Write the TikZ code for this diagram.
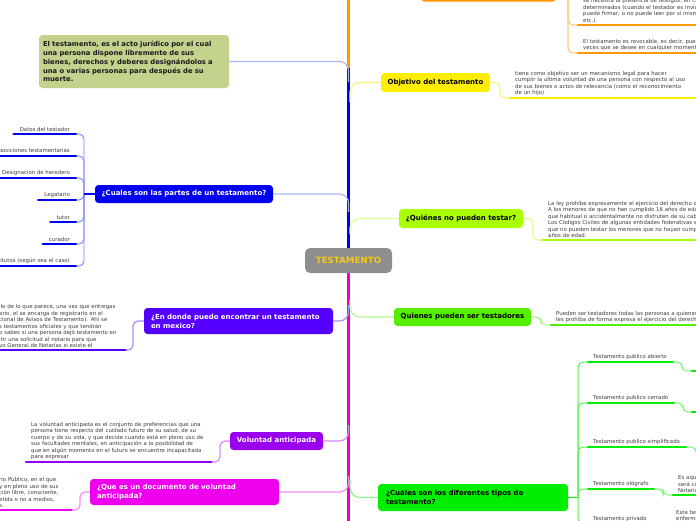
\documentclass[tikz,border=0pt]{standalone}
\usepackage{fontspec}
\setmainfont{DejaVu Sans}
\definecolor{rootgray}{HTML}{8E8E90}
\definecolor{rootyel}{HTML}{F2C81A}
\definecolor{olive}{HTML}{C3D28D}
\definecolor{darktext}{HTML}{1A1A1A}
\definecolor{textgray}{HTML}{3C3C3C}
\definecolor{blueN}{HTML}{0000EE}
\definecolor{blueL}{HTML}{A9B6FF}
\definecolor{dondeC}{HTML}{5500FF}
\definecolor{dondeL}{HTML}{A88CFF}
\definecolor{volC}{HTML}{9900EE}
\definecolor{volL}{HTML}{D38CFF}
\definecolor{docC}{HTML}{EE00EE}
\definecolor{docL}{HTML}{F58CF5}
\definecolor{magT}{HTML}{EE00CC}
\definecolor{yelC}{HTML}{FFEE00}
\definecolor{yelL}{HTML}{FFF27A}
\definecolor{limeC}{HTML}{AAFF00}
\definecolor{limeL}{HTML}{D9FF8C}
\definecolor{puC}{HTML}{55EE00}
\definecolor{puL}{HTML}{B3F58C}
\definecolor{tiC}{HTML}{00EE00}
\definecolor{tiL}{HTML}{8CF58C}
\definecolor{orC}{HTML}{FF9900}
\definecolor{orL}{HTML}{FFCC80}
\newcommand\mmttl{\fontsize{7}{9}\selectfont\bfseries}
\newcommand\mmsml{\fontsize{5.4}{6.5}\selectfont}
\newcommand\mmroot{\fontsize{8.7}{10}\selectfont\bfseries}
\begin{document}
\begin{tikzpicture}[x=1pt,y=-1pt,
  box/.style={rounded corners=3.5pt, font=\mmttl, inner sep=0pt},
  leaf/.style={anchor=south west, inner xsep=5pt, inner ysep=2pt, align=left, font=\mmsml, text=textgray},
  leafr/.style={anchor=south east, inner xsep=6pt, inner ysep=2pt, align=right, font=\mmsml, text=textgray},
  conn/.style={line width=1.2pt, rounded corners=5pt},
  bar/.style={line width=2.6pt, line cap=round},
  trunk/.style={line width=2.8pt}]
\useasboundingbox (0,0) rectangle (696,520);
\clip (0,0) rectangle (696,520);

% ---------- main nodes ----------
\node[box, fill=orC, minimum width=135pt, minimum height=15.5pt] (onode) at (488.5,-6.25) {};
\node[box, fill=olive, text=darktext, minimum width=190pt, minimum height=53pt, text width=182pt, align=left, font=\fontsize{6.8}{8.9}\selectfont\bfseries] (eltest) at (134,61.5)
 {El testamento, es el acto jurídico por el cual\\ una persona dispone libremente de sus\\ bienes, derechos y deberes designándolos a\\ una o varias personas para después de su\\ muerte.};
\node[box, fill=blueN, text=white, minimum width=178pt, minimum height=18pt] (partes) at (184,194) {¿Cuales son las partes de un testamento?};
\node[box, fill=dondeC, text=white, minimum width=189pt, minimum height=26pt, text width=175pt, align=left] (donde) at (238.5,321)
 {¿En donde puedo encontrar un testamento\\ en mexico?};
\node[box, fill=volC, text=white, minimum width=93pt, minimum height=18pt] (volunt) at (276.5,441) {Voluntad anticipada};
\node[box, fill=docC, text=white, minimum width=189pt, minimum height=26pt, text width=175pt, align=left] (doc) at (184.5,492)
 {¿Que es un documento de voluntad\\ anticipada?};
\node[box, fill=yelC, text=black, minimum width=109pt, minimum height=19pt] (objetivo) at (435.5,82.5) {Objetivo del testamento};
\node[box, fill=limeC, text=black, minimum width=124pt, minimum height=19pt] (nopueden) at (461,218.5) {¿Quiénes no pueden testar?};
\node[box, fill=puC, text=black, minimum width=137pt, minimum height=18pt] (pueden) at (462.5,317) {Quienes pueden ser testadores};
\node[box, fill=tiC, text=black, minimum width=190pt, minimum height=27pt, text width=174pt, align=left] (tipos) at (473,497.5)
 {¿Cuáles son los diferentes tipos de\\ testamento?};

% ---------- trunk ----------
\draw[trunk, orC, rounded corners=8pt] (348.5,250) |- (onode.west);
\draw[trunk, blueN] (348.5,250) -- (348.5,68);
\draw[trunk, magT] (348.5,270) -- (348.5,530);
\node[box, fill=rootgray, text=rootyel, font=\mmroot, minimum width=87pt, minimum height=25pt, rounded corners=5pt] (root) at (348.5,260.5) {TESTAMENTO};

\coordinate (jET) at (348.5,82);
\coordinate (jPA) at (348.5,212);
\coordinate (jDO) at (348.5,305);
\coordinate (jVO) at (348.5,425);
\coordinate (jDC) at (348.5,476);
\coordinate (jOB) at (350,102);
\coordinate (jNP) at (350,234);
\coordinate (jPU) at (350,300);
\coordinate (jTI) at (350,480);
\draw[conn, blueL, rounded corners=9pt] (eltest.east) -| (jET);
\draw[conn, blueL, rounded corners=9pt] (partes.east) -| (jPA);
\draw[conn, dondeL, rounded corners=9pt] (donde.east) -| (jDO);
\draw[conn, volL, rounded corners=9pt] (volunt.east) -| (jVO);
\draw[conn, docL, rounded corners=9pt] (doc.east) -| (jDC);
\draw[conn, yelL, rounded corners=10pt] (jOB) |- (objetivo.west);
\draw[conn, limeL, rounded corners=10pt] (jNP) |- (nopueden.west);
\draw[conn, puL, rounded corners=10pt] (jPU) |- (pueden.west);
\draw[conn, tiL, rounded corners=10pt] (jTI) |- (tipos.west);

% ---------- orange leaves ----------
\node[leaf, text width=200pt] (oc1) at (578,25)
 {se necesita la presencia de testigos, en casos\\ determinados (cuando el testador es invidente, no\\ puede firmar, o no puede leer por sí mismo,\\ etc.).};
\node[leaf, text width=200pt] (oc2) at (578,53)
 {El testamento es revocable, es decir, puede revocarse las\\ veces que se desee en cualquier momento.};
\coordinate (oJ) at (568,-6.25);
\draw[conn, orL] (onode.east) -- (oJ) |- (oc1.south west);
\draw[conn, orL] (oJ) |- (oc2.south west);
\draw[bar, orC] (oc1.south west) -- (oc1.south east);
\draw[bar, orC] (oc2.south west) -- (oc2.south east);

% ---------- objetivo leaf ----------
\node[leaf, text width=200pt] (ob1) at (510,98)
 {tiene como objetivo ser un mecanismo legal para hacer\\ cumplir la ultima voluntad de una persona con respecto al uso\\ de sus bienes o actos de relevancia (como el reconocimiento\\ de un hijo)};
\coordinate (obJ) at (500,82.5);
\draw[conn, yelL] (objetivo.east) -- (obJ) |- (ob1.south west);
\draw[bar, yelC] (ob1.south west) -- (ob1.south east);

% ---------- no pueden leaf ----------
\node[leaf, text width=200pt] (np1) at (543,240)
 {La ley prohíbe expresamente el ejercicio del derecho de testar:\\ A los menores de que no han cumplido 16 años de edad\\ que habitual o accidentalmente no disfruten de su cabal juicio.\\ Los Códigos Civiles de algunas entidades federativas establecen\\ que no pueden testar los menores que no hayan cumplido 14\\ años de edad.};
\coordinate (npJ) at (533,218.5);
\draw[conn, limeL] (nopueden.east) -- (npJ) |- (np1.south west);
\draw[bar, limeC] (np1.south west) -- (np1.south east);

% ---------- pueden leaf ----------
\node[leaf, text width=200pt] (pu1) at (551,325)
 {Pueden ser testadores todas las personas a quienes la ley no\\ les prohíba de forma expresa el ejercicio del derecho de testar.};
\coordinate (puJ) at (541,317);
\draw[conn, puL] (pueden.east) -- (puJ) |- (pu1.south west);
\draw[bar, puC] (pu1.south west) -- (pu1.south east);

% ---------- partes leaves ----------
\node[leafr] (pl1) at (76,134) {Datos del testador};
\node[leafr] (pl2) at (76,156) {Disposiciones testamentarias};
\node[leafr] (pl3) at (76,178) {Designacion de heredero};
\node[leafr] (pl4) at (76,200) {Legatario};
\node[leafr] (pl5) at (76,222) {tutor};
\node[leafr] (pl6) at (76,244) {curador};
\node[leafr] (pl7) at (76,266) {Sustitutos (según sea el caso)};
\coordinate (paJ) at (84,194);
\foreach \n in {pl1,pl2,pl3,pl4,pl5,pl6,pl7}{
  \draw[conn, line width=0.9pt, blueL!70!blueN] (paJ) |- (\n.south east);
  \draw[bar, blueN] (\n.south west) -- (\n.south east);
}
\draw[line width=2pt, blueN] (partes.west) -- (paJ);

% ---------- donde leaf ----------
\node[leaf, text width=121pt] (dl) at (-6,350)
 {llo de lo que parece, una vez que entregas\\ ario, el se encarga de registrarlo en el\\ cional de Avisos de Testamento). Ahí se\\ s testamentos oficiales y que tendrán\\ o sabes si una persona dejó testamento en\\ itir una solicitud al notario para que\\ vo General de Notarías si existe el};
\coordinate (dJ) at (133,321);
\draw[conn, dondeL] (donde.west) -- (dJ) |- (dl.south east);
\draw[bar, dondeC] (dl.south west) -- (dl.south east);

% ---------- voluntad leaf ----------
\node[leaf, text width=175pt] (vl) at (26,462)
 {La voluntad anticipada es el conjunto de preferencias que una\\ persona tiene respecto del cuidado futuro de su salud, de su\\ cuerpo y de su vida, y que decide cuando está en pleno uso de\\ sus facultades mentales, en anticipación a la posibilidad de\\ que en algún momento en el futuro se encuentre incapacitada\\ para expresar};
\coordinate (vJ) at (220,441);
\draw[conn, volL] (volunt.west) -- (vJ) |- (vl.south east);
\draw[bar, volC] (vl.south west) -- (vl.south east);

% ---------- doc leaf ----------
\node[leaf, text width=67pt] (dcl) at (-6,510)
 {rio Público, en el que\\ y en pleno uso de sus\\ ción libre, consciente,\\ etida o no a medios,\\ s.};
\coordinate (dcJ) at (80,492);
\draw[conn, docL] (doc.west) -- (dcJ) |- (dcl.south east);
\draw[bar, docC] (dcl.south west) -- (dcl.south east);

% ---------- tipos leaves ----------
\node[leaf] (tl1) at (588,362) {Testamento publico abierto};
\node[leaf] (tl2) at (588,403) {Testamento publico cerrado};
\node[leaf] (tl3) at (588,447) {Testamento publico simplificado};
\node[leaf] (tl4) at (588,489) {Testamento ológrafo};
\node[leaf] (tl5) at (588,524) {Testamento privado};
\coordinate (tl1e) at (673,362);
\coordinate (tl2e) at (674,403);
\coordinate (tl3e) at (686,447);
\coordinate (tl4e) at (654,489);
\coordinate (tl5e) at (650,524);
\coordinate (tJ) at (578,497.5);
\draw[line width=1.6pt, tiC] (tipos.east) -- (tJ);
\foreach \n in {tl1,tl2,tl3,tl4,tl5}{
  \draw[conn, tiL!60!tiC, line width=1pt] (tJ) |- (\n.south west);
  \draw[bar, tiC] (\n.south west) -- (\n e);
}
% second level
\coordinate (s1) at (692,371);
\coordinate (s2) at (692,412);
\coordinate (s3) at (706,456);
\node[leaf, text width=120pt] (s4) at (673,495)
 {Es aquel testamento que\\ será conservado en la\\ Notaría};
\node[leaf, text width=120pt] (s5) at (671,524)
 {Este testamento se otorga\\ enfermedad grave};
\draw[conn, tiL] (tl1e) -- (682,362) |- (s1);
\draw[conn, tiL] (tl2e) -- (683,403) |- (s2);
\draw[conn, tiL] (tl3e) -- (696,447) |- (s3);
\draw[conn, tiL] (tl4e) -- (663,489) |- (s4.south west);
\draw[bar, tiC] (s1) -- ++(15,0);
\draw[bar, tiC] (s2) -- ++(15,0);
\draw[bar, tiC] (s4.south west) -- (s4.south east);
\end{tikzpicture}
\end{document}
